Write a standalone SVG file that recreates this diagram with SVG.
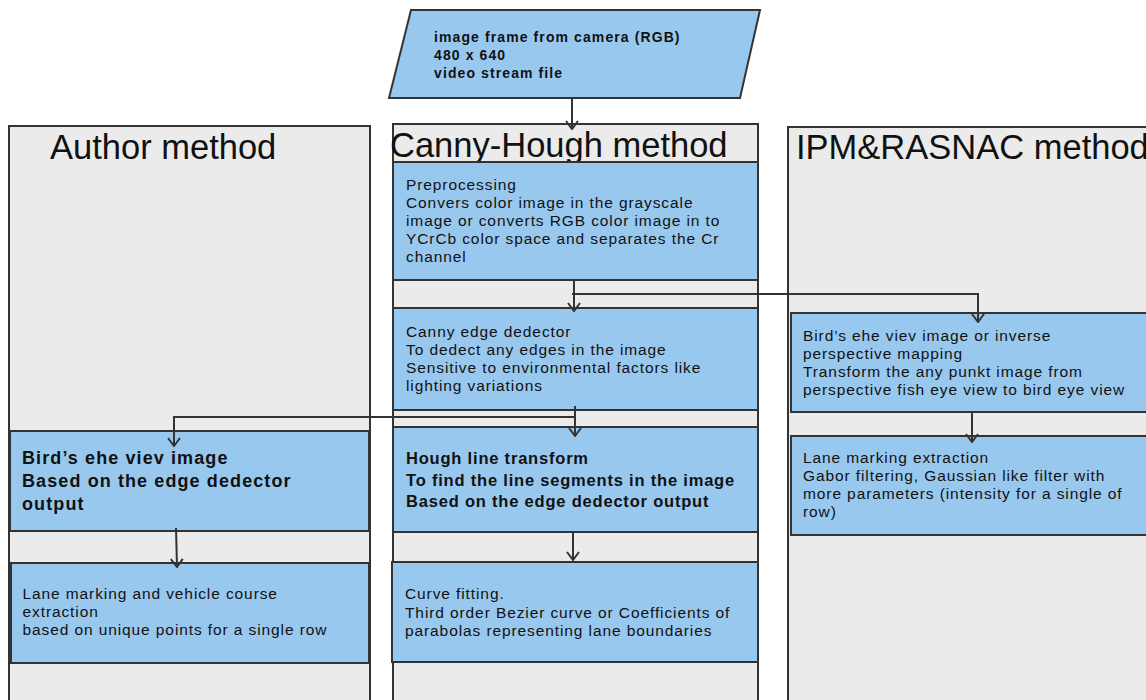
<svg xmlns="http://www.w3.org/2000/svg" width="1146" height="700" viewBox="0 0 1146 700">
<style>
.col{fill:#ebebeb;stroke:#333;stroke-width:2}
.box{fill:#99c8ef;stroke:#333;stroke-width:2}
.title{font-family:"Liberation Sans",Arial,sans-serif;font-size:34.5px;fill:#111}
.t{font-family:"Liberation Sans",Arial,sans-serif;font-size:15.5px;letter-spacing:0.9px;fill:#111}
.tb{font-family:"Liberation Sans",Arial,sans-serif;font-size:14px;font-weight:bold;letter-spacing:1.1px;fill:#111}
.tl{font-family:"Liberation Sans",Arial,sans-serif;font-size:18px;font-weight:bold;letter-spacing:1.1px;fill:#111}
.th{font-family:"Liberation Sans",Arial,sans-serif;font-size:16.5px;font-weight:bold;letter-spacing:0.8px;fill:#111}
.c{fill:none;stroke:#333;stroke-width:2}
</style>
<defs>
<marker id="arr" viewBox="0 0 10 14" refX="9" refY="7" markerWidth="10" markerHeight="14" markerUnits="userSpaceOnUse" orient="auto">
<path d="M1,1 L9,7 L1,13" fill="none" stroke="#333" stroke-width="2"/>
</marker>
</defs>
<rect width="1146" height="700" fill="#fff"/>
<g id="col-author">
<rect class="col" x="9" y="126" width="361" height="600"/>
<text class="title" x="50" y="159">Author method</text>
</g>
<g id="col-canny">
<rect class="col" x="393" y="124" width="365" height="600"/>
<text class="title" x="390" y="157">Canny-Hough method</text>
</g>
<g id="col-ipm">
<rect class="col" x="788" y="127" width="380" height="600"/>
<text class="title" x="796" y="159">IPM&amp;RASNAC method</text>
</g>
<g id="input">
<polygon class="box" points="411,10 760,10 740,98 389,98"/>
<text class="tb"><tspan x="434" y="41.5">image frame from camera (RGB)</tspan><tspan x="434" y="59.5">480 x 640</tspan><tspan x="434" y="77.5">video stream file</tspan></text>
</g>
<g id="preprocessing">
<rect class="box" x="393" y="162" width="365" height="118"/>
<text class="t"><tspan x="406" y="190">Preprocessing</tspan><tspan x="406" y="208">Convers color image in the grayscale</tspan><tspan x="406" y="226">image or converts RGB color image in to</tspan><tspan x="406" y="244">YCrCb color space and separates the Cr</tspan><tspan x="406" y="262">channel</tspan></text>
</g>
<g id="canny-edge">
<rect class="box" x="393" y="308" width="365" height="102"/>
<text class="t"><tspan x="406" y="337">Canny edge dedector</tspan><tspan x="406" y="355">To dedect any edges in the image</tspan><tspan x="406" y="373">Sensitive to environmental factors like</tspan><tspan x="406" y="391">lighting variations</tspan></text>
</g>
<g id="hough">
<rect class="box" x="393" y="427" width="365" height="105"/>
<text class="th"><tspan x="406" y="464">Hough line transform</tspan><tspan x="406" y="485.5">To find the line segments in the image</tspan><tspan x="406" y="507">Based on the edge dedector output</tspan></text>
</g>
<g id="curve-fitting">
<rect class="box" x="392" y="562" width="366" height="100"/>
<text class="t"><tspan x="405" y="599">Curve fitting.</tspan><tspan x="405" y="617.5">Third order Bezier curve or Coefficients of</tspan><tspan x="405" y="636">parabolas representing lane boundaries</tspan></text>
</g>
<g id="author-birds-eye">
<rect class="box" x="10" y="431" width="359" height="100"/>
<text class="tl"><tspan x="22" y="464">Bird’s ehe viev image</tspan><tspan x="22" y="487">Based on the edge dedector</tspan><tspan x="22" y="510">output</tspan></text>
</g>
<g id="author-lane">
<rect class="box" x="11" y="563" width="358" height="100"/>
<text class="t"><tspan x="22.5" y="599">Lane marking and vehicle course</tspan><tspan x="22.5" y="617">extraction</tspan><tspan x="22.5" y="635">based on unique points for a single row</tspan></text>
</g>
<g id="ipm-birds-eye">
<rect class="box" x="791" y="313" width="380" height="99"/>
<text class="t"><tspan x="803" y="341">Bird’s ehe viev image or inverse</tspan><tspan x="803" y="359">perspective mapping</tspan><tspan x="803" y="377">Transform the any punkt image from</tspan><tspan x="803" y="395">perspective fish eye view to bird eye view</tspan></text>
</g>
<g id="ipm-lane">
<rect class="box" x="791" y="436" width="380" height="99"/>
<text class="t"><tspan x="803" y="463">Lane marking extraction</tspan><tspan x="803" y="481">Gabor filtering, Gaussian like filter with</tspan><tspan x="803" y="499">more parameters (intensity for a single of</tspan><tspan x="803" y="517">row)</tspan></text>
</g>
<g id="connectors">
<path class="c" d="M572,98 L572,129" marker-end="url(#arr)"/>
<path class="c" d="M574,280 L574,311" marker-end="url(#arr)"/>
<path class="c" d="M572,294 L978,294 L978,322" marker-end="url(#arr)"/>
<path class="c" d="M575,406 L575,436" marker-end="url(#arr)"/>
<path class="c" d="M575,417 L174,417 L174,446" marker-end="url(#arr)"/>
<path class="c" d="M573,532 L573,560" marker-end="url(#arr)"/>
<path class="c" d="M176,528 L177,567" marker-end="url(#arr)"/>
<path class="c" d="M972,412 L972,442" marker-end="url(#arr)"/>
</g>
</svg>
